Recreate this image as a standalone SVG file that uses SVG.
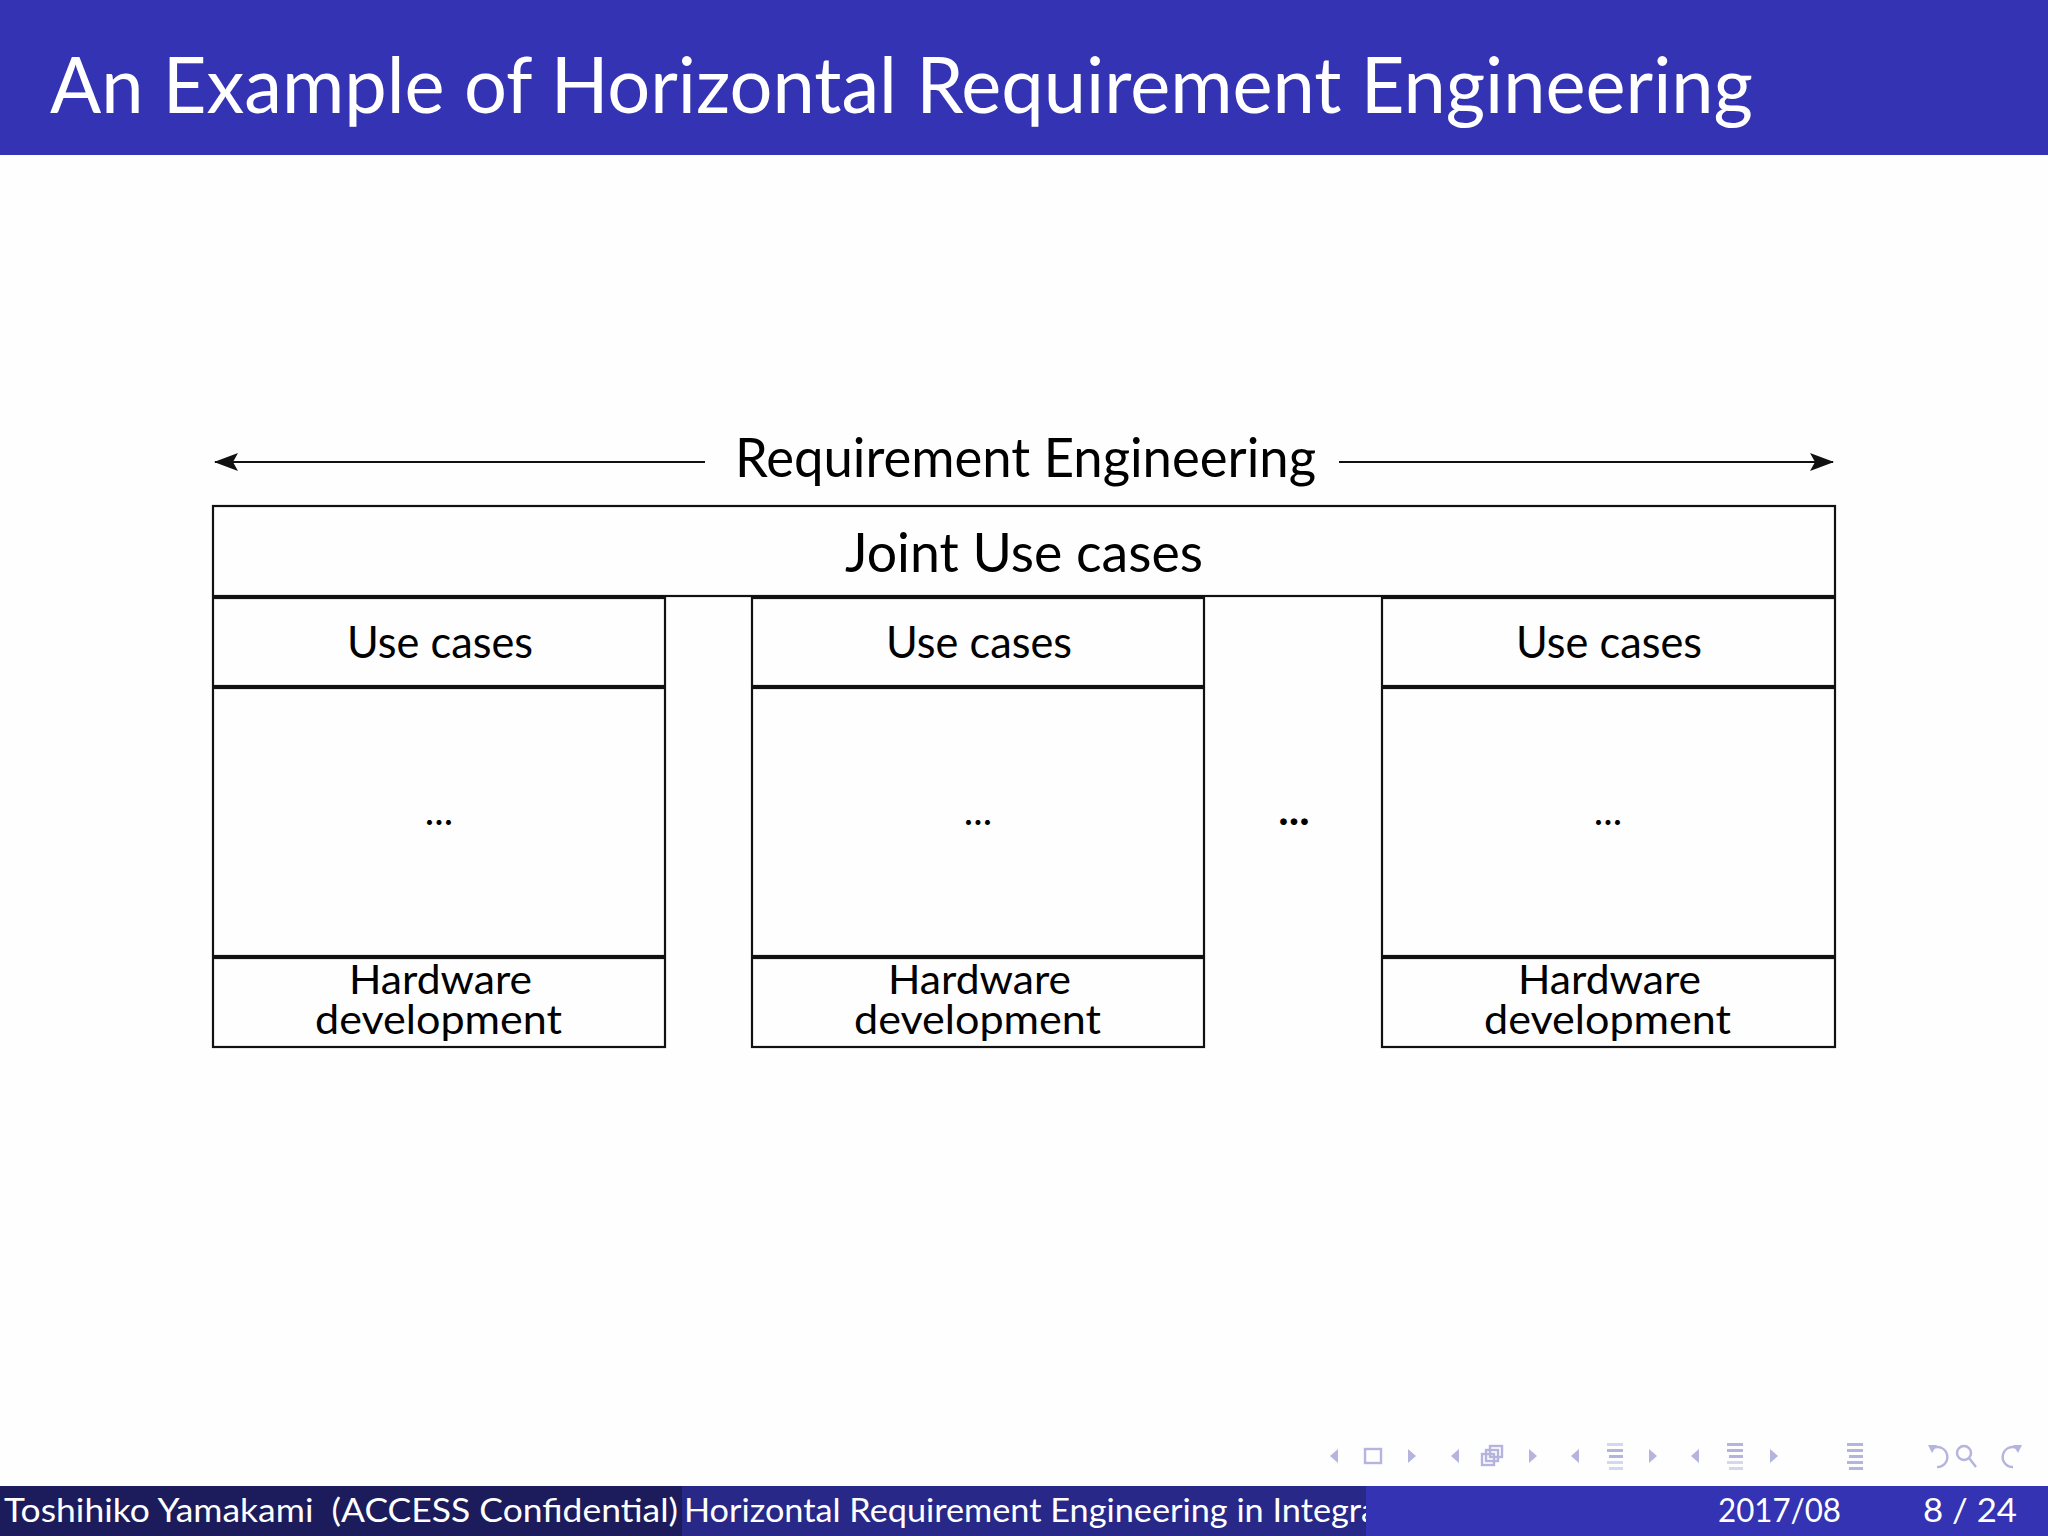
<svg xmlns="http://www.w3.org/2000/svg" width="2048" height="1536" viewBox="0 0 2048 1536">
<style>
.t{font-family:Lato,"Open Sans","Liberation Sans",sans-serif;fill:#000}
.w{font-family:Lato,"Open Sans","Liberation Sans",sans-serif;fill:#fff}
.hw{font-size:41px}
.box{fill:none;stroke:#111;stroke-width:2.2}
.ln{stroke:#111;stroke-width:2.2;fill:none}
.nav{fill:#b4b4de}
.navl{fill:#d6d6ee}
.navs{fill:none;stroke:#b4b4de;stroke-width:2.4}
</style>
<defs>
<marker id="ah" viewBox="0 0 24 18" refX="23" refY="9" markerWidth="24" markerHeight="18" markerUnits="userSpaceOnUse" orient="auto">
<path d="M0,0 L24,9 L0,18 L5,9 Z" fill="#111"/>
</marker>
<clipPath id="titleclip"><rect x="682" y="1486" width="684" height="50"/></clipPath>
</defs>
<rect x="0" y="0" width="2048" height="1536" fill="#fefefe"/>
<!-- header -->
<rect x="0" y="0" width="2048" height="155" fill="#3333b3"/>
<text class="w" x="50" y="113" font-size="78" textLength="1703" lengthAdjust="spacingAndGlyphs">An Example of Horizontal Requirement Engineering</text>

<!-- connectors -->
<g id="connectors">
<line class="ln" x1="705" y1="462" x2="215" y2="462" marker-end="url(#ah)"/>
<line class="ln" x1="1339" y1="462" x2="1833" y2="462" marker-end="url(#ah)"/>
</g>

<g id="label-re">
<text class="t" x="735" y="477" font-size="54" textLength="581" lengthAdjust="spacingAndGlyphs">Requirement Engineering</text>
</g>

<g id="joint">
<rect class="box" x="213" y="506" width="1622" height="90"/>
<text class="t" x="845" y="572" font-size="54" textLength="358" lengthAdjust="spacingAndGlyphs">Joint Use cases</text>
</g>

<g id="col1">
<rect class="box" x="213" y="598" width="452" height="88"/>
<rect class="box" x="213" y="688" width="452" height="268"/>
<rect class="box" x="213" y="958" width="452" height="89"/>
<text class="t" x="347" y="658" font-size="44" textLength="186" lengthAdjust="spacingAndGlyphs">Use cases</text>
<text class="t" x="439" y="825" font-size="40" text-anchor="middle">...</text>
<text class="t hw"><tspan x="349" y="994" textLength="183" lengthAdjust="spacingAndGlyphs">Hardware</tspan><tspan x="315" y="1034" textLength="247" lengthAdjust="spacingAndGlyphs">development</tspan></text>
</g>

<g id="col2">
<rect class="box" x="752" y="598" width="452" height="88"/>
<rect class="box" x="752" y="688" width="452" height="268"/>
<rect class="box" x="752" y="958" width="452" height="89"/>
<text class="t" x="886" y="658" font-size="44" textLength="186" lengthAdjust="spacingAndGlyphs">Use cases</text>
<text class="t" x="978" y="825" font-size="40" text-anchor="middle">...</text>
<text class="t hw"><tspan x="888" y="994" textLength="183" lengthAdjust="spacingAndGlyphs">Hardware</tspan><tspan x="854" y="1034" textLength="247" lengthAdjust="spacingAndGlyphs">development</tspan></text>
</g>

<g id="gap-dots">
<text class="t" x="1294" y="825" font-size="44" font-weight="bold" text-anchor="middle">...</text>
</g>

<g id="col3">
<rect class="box" x="1382" y="598" width="453" height="88"/>
<rect class="box" x="1382" y="688" width="453" height="268"/>
<rect class="box" x="1382" y="958" width="453" height="89"/>
<text class="t" x="1516" y="658" font-size="44" textLength="186" lengthAdjust="spacingAndGlyphs">Use cases</text>
<text class="t" x="1608" y="825" font-size="40" text-anchor="middle">...</text>
<text class="t hw"><tspan x="1518" y="994" textLength="183" lengthAdjust="spacingAndGlyphs">Hardware</tspan><tspan x="1484" y="1034" textLength="247" lengthAdjust="spacingAndGlyphs">development</tspan></text>
</g>

<!-- navigation symbols -->
<g id="nav">
<path class="nav" d="M1330,1456 L1338,1449 L1338,1463 Z"/>
<rect class="navs" x="1365" y="1449" width="16" height="14"/>
<path class="nav" d="M1416,1456 L1408,1449 L1408,1463 Z"/>
<path class="nav" d="M1451,1456 L1459,1449 L1459,1463 Z"/>
<rect class="navs" x="1490" y="1446" width="12" height="11" fill="#fefefe"/>
<rect class="navs" x="1486" y="1450" width="12" height="11" fill="#fefefe"/>
<rect class="navs" x="1482" y="1454" width="12" height="11" fill="#fefefe"/>
<path class="nav" d="M1537,1456 L1529,1449 L1529,1463 Z"/>
<path class="nav" d="M1571,1456 L1579,1449 L1579,1463 Z"/>
<rect class="navl" x="1607" y="1443" width="16" height="3"/>
<rect class="nav" x="1607" y="1449" width="16" height="3"/>
<rect class="nav" x="1609" y="1455" width="14" height="3"/>
<rect class="navl" x="1607" y="1461" width="16" height="3"/>
<rect class="navl" x="1609" y="1467" width="14" height="3"/>
<path class="nav" d="M1657,1456 L1649,1449 L1649,1463 Z"/>
<path class="nav" d="M1691,1456 L1699,1449 L1699,1463 Z"/>
<rect class="nav" x="1727" y="1443" width="16" height="3"/>
<rect class="nav" x="1727" y="1449" width="16" height="3"/>
<rect class="nav" x="1729" y="1455" width="14" height="3"/>
<rect class="navl" x="1727" y="1461" width="16" height="3"/>
<rect class="navl" x="1729" y="1467" width="14" height="3"/>
<path class="nav" d="M1778,1456 L1770,1449 L1770,1463 Z"/>
<rect class="nav" x="1847" y="1443" width="16" height="3"/>
<rect class="nav" x="1847" y="1449" width="16" height="3"/>
<rect class="nav" x="1849" y="1455" width="14" height="3"/>
<rect class="nav" x="1847" y="1461" width="16" height="3"/>
<rect class="nav" x="1849" y="1467" width="14" height="3"/>
<path class="navs" d="M1933,1448 A10,10 0 1 1 1937,1467"/>
<path class="nav" d="M1928,1445 L1937,1445 L1932,1453 Z"/>
<circle class="navs" cx="1964" cy="1453" r="7"/>
<line class="navs" x1="1969" y1="1458" x2="1976" y2="1467"/>
<path class="navs" d="M2017,1448 A10,10 0 1 0 2013,1467"/>
<path class="nav" d="M2022,1445 L2013,1445 L2018,1453 Z"/>
</g>

<!-- footer -->
<g id="footer">
<rect x="0" y="1486" width="682" height="50" fill="#1c1c5c"/>
<rect x="682" y="1486" width="684" height="50" fill="#282888"/>
<rect x="1366" y="1486" width="682" height="50" fill="#3333b3"/>
<text class="w" x="4" y="1522" font-size="33" textLength="674" lengthAdjust="spacingAndGlyphs" style="white-space:pre">Toshihiko Yamakami  (ACCESS Confidential)</text>
<g clip-path="url(#titleclip)">
<text class="w" x="684" y="1522" font-size="33" textLength="694" lengthAdjust="spacingAndGlyphs">Horizontal Requirement Engineering in Integra</text>
</g>
<text class="w" x="1718" y="1522" font-size="33" textLength="123" lengthAdjust="spacingAndGlyphs">2017/08</text>
<text class="w" x="1923" y="1522" font-size="33" textLength="94" lengthAdjust="spacingAndGlyphs" style="white-space:pre">8 / 24</text>
</g>
</svg>
